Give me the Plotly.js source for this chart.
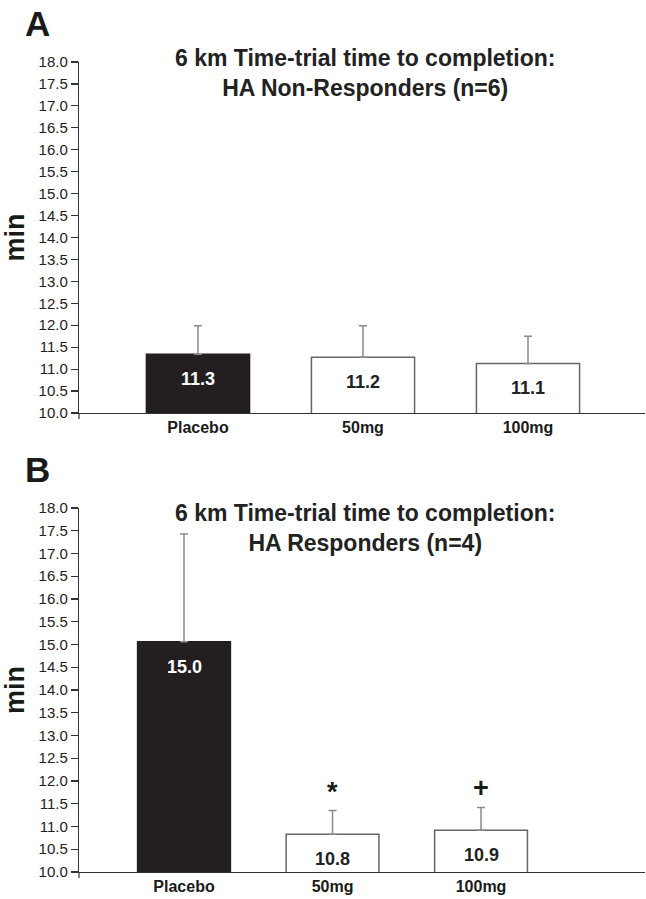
<!DOCTYPE html>
<html>
<head>
<meta charset="utf-8">
<script src="https://cdn.plot.ly/plotly-3.0.1.min.js"></script>
<style>
  html, body { margin: 0; padding: 0; background: #fff; }
  #chart { width: 646px; height: 899px; }
</style>
</head>
<body>
<div id="chart"></div>
<script>
// ---- data ----
const categories = ["Placebo", "50mg", "100mg"];
const meanA = [11.34, 11.27, 11.13];
const errA = [0.65, 0.72, 0.62];
const labelsA = ["11.3", "11.2", "11.1"];
const meanB = [15.06, 10.83, 10.92];
const errB = [2.37, 0.52, 0.50];
const labelsB = ["15.0", "10.8", "10.9"];
const markersB = ["", "*", "+"];
const titleA = "6 km Time-trial time to completion:<br>HA Non-Responders (n=6)";
const titleB = "6 km Time-trial time to completion:<br>HA Responders (n=4)";

// ---- style ----
const FONT = "Liberation Sans, Arial, Helvetica, sans-serif";
const fillColors = ["#231f20", "#ffffff", "#ffffff"];
const lineColors = ["#231f20", "#666666", "#666666"];
const axisColor = "#333333";

function barTrace(vals, errs, xa, ya) {
  return {
    type: "bar",
    x: categories,
    y: vals,
    xaxis: xa,
    yaxis: ya,
    marker: { color: fillColors, line: { color: lineColors, width: 1.5 } },
    error_y: {
      type: "data", symmetric: false, array: errs, arrayminus: errs.map(() => 0),
      color: "#8a8a8a", thickness: 1.5, width: 4
    },
    hoverinfo: "skip",
    showlegend: false
  };
}

const data = [barTrace(meanA, errA, "x", "y"), barTrace(meanB, errB, "x2", "y2")];

const annotations = [];
function addValueLabels(vals, labels, xa, ya) {
  vals.forEach((v, i) => {
    annotations.push({
      xref: xa, yref: ya, x: categories[i], y: v, yshift: -25,
      text: "<b>" + labels[i] + "</b>", showarrow: false,
      font: { family: FONT, size: 18, color: i === 0 ? "#ffffff" : "#222222" },
      xanchor: "center", yanchor: "middle"
    });
  });
}
addValueLabels(meanA, labelsA, "x", "y");
addValueLabels(meanB, labelsB, "x2", "y2");

markersB.forEach((m, i) => {
  if (!m) return;
  annotations.push({
    xref: "x2", yref: "y2", x: categories[i], y: meanB[i] + errB[i], yshift: 2,
    text: "<b>" + m + "</b>", showarrow: false,
    font: { family: FONT, size: 27, color: "#1a1a1a" },
    xanchor: "center", yanchor: "bottom"
  });
});

// titles and panel letters
annotations.push(
  { xref: "paper", yref: "paper", x: 0.505, y: 0.9864, text: "<b>" + titleA + "</b>", showarrow: false,
    font: { family: FONT, size: 23, color: "#222222" }, xanchor: "center", yanchor: "middle", align: "center" },
  { xref: "paper", yref: "paper", x: 0.505, y: 0.4253, text: "<b>" + titleB + "</b>", showarrow: false,
    font: { family: FONT, size: 23, color: "#222222" }, xanchor: "center", yanchor: "middle", align: "center" },
  { xref: "paper", yref: "paper", x: -0.0742, y: 1.047, text: "<b>A</b>", showarrow: false,
    font: { family: FONT, size: 35, color: "#1a1a1a" }, xanchor: "center", yanchor: "middle" },
  { xref: "paper", yref: "paper", x: -0.0742, y: 0.4963, text: "<b>B</b>", showarrow: false,
    font: { family: FONT, size: 35, color: "#1a1a1a" }, xanchor: "center", yanchor: "middle" }
);

function yAxis(domain, anchor) {
  return {
    domain: domain, anchor: anchor, range: [10, 18], dtick: 0.5, tick0: 10, tickformat: ".1f",
    showline: true, linecolor: axisColor, linewidth: 1.2,
    ticks: "outside", ticklen: 7, tickwidth: 1.2, tickcolor: axisColor,
    tickfont: { family: FONT, size: 15, color: "#222222" },
    showgrid: false, zeroline: false, fixedrange: true,
    title: { text: "<b>min</b>", font: { family: FONT, size: 27, color: "#1a1a1a" }, standoff: 6 }
  };
}
function xAxis(range, anchor) {
  return {
    type: "category", range: range, anchor: anchor, domain: [0, 1],
    showline: true, linecolor: axisColor, linewidth: 1.2,
    ticks: "", ticklabelstandoff: 0,
    tickfont: { family: FONT, size: 16, color: "#1a1a1a", weight: "bold" },
    showgrid: false, zeroline: false, fixedrange: true
  };
}

const shapes = ["y", "y2"].map((ya, k) => ({
  type: "line", xref: k === 0 ? "x domain" : "x2 domain", yref: ya + " domain",
  ysizemode: "pixel", yanchor: 0, x0: 0, x1: 0, y0: 0, y1: -6,
  line: { color: axisColor, width: 1.2 }
}));

const layout = {
  width: 646, height: 899,
  margin: { l: 79, r: 1, t: 62, b: 27 },
  paper_bgcolor: "#ffffff", plot_bgcolor: "#ffffff",
  bargap: 0.375,
  xaxis: xAxis([-0.721, 2.709], "y"),
  yaxis: yAxis([0.5667, 1], "x"),
  xaxis2: xAxis([-0.707, 3.104], "y2"),
  yaxis2: yAxis([0, 0.4494], "x2"),
  annotations: annotations,
  shapes: shapes,
  font: { family: FONT }
};

Plotly.newPlot("chart", data, layout, { displayModeBar: false, staticPlot: true });
</script>
</body>
</html>
